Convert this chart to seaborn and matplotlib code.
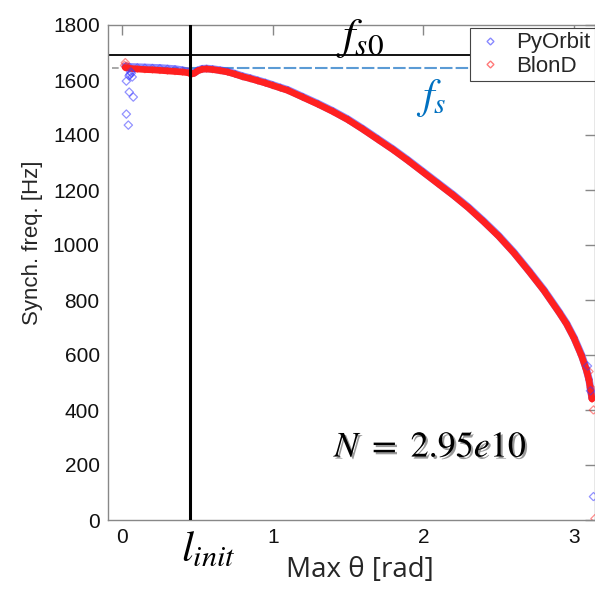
import numpy as np
import pandas as pd
import seaborn as sns
import matplotlib
matplotlib.use("Agg")
import matplotlib.pyplot as plt
from matplotlib.lines import Line2D
import matplotlib.patheffects as pe

# ---------------- data ----------------
theta_band = [0.02, 0.05, 0.10, 0.15, 0.20, 0.25, 0.30, 0.35, 0.40, 0.44, 0.46, 0.48,
              0.50, 0.53, 0.56, 0.60, 0.65, 0.70, 0.75, 0.80, 0.85, 0.90, 0.95, 1.00,
              1.05, 1.10, 1.20, 1.30, 1.40, 1.50, 1.60, 1.70, 1.80, 1.90, 2.00, 2.10,
              2.20, 2.30, 2.40, 2.50, 2.60, 2.70, 2.80, 2.90, 2.95, 3.00, 3.05, 3.08,
              3.10, 3.12]
f_blond = [1645, 1642, 1640, 1638, 1637, 1635, 1633, 1631, 1629, 1626, 1622, 1625,
           1633, 1639, 1640, 1638, 1634, 1629, 1621, 1612, 1605, 1597, 1589, 1580,
           1571, 1562, 1537, 1512, 1485, 1455, 1420, 1383, 1346, 1306, 1264, 1222,
           1180, 1135, 1085, 1032, 972, 905, 835, 756, 714, 662, 598, 550,
           509, 440]
f_pyorbit = [1650, 1648, 1647, 1646, 1645, 1644, 1642, 1640, 1636, 1631, 1624, 1627,
             1635, 1641, 1642, 1640, 1636, 1631, 1623, 1614, 1607, 1599, 1591, 1582,
             1573, 1564, 1539, 1514, 1487, 1457, 1422, 1385, 1348, 1308, 1266, 1224,
             1182, 1137, 1087, 1034, 974, 907, 837, 758, 716, 664, 601, 553,
             512, 445]

theta_py_out = [0.027, 0.066, 0.046, 0.073, 0.027, 0.040, 0.050, 0.055, 0.060, 0.045,
                3.09, 3.11, 3.13]
f_py_out = [1596, 1611, 1556, 1538, 1476, 1436, 1620, 1630, 1625, 1615, 560, 470, 85]
theta_bl_out = [0.020, 0.015, 0.030, 3.10, 3.115, 3.13, 3.14]
f_bl_out = [1663, 1653, 1650, 540, 480, 400, 5]

fs0 = 1690
fs = 1645
l_init = 0.45

xticks = [0, 1, 2, 3]
yticks = [0, 200, 400, 600, 800, 1000, 1200, 1400, 1600, 1800]

# ---------------- style ----------------
sns.set_style("white")
plt.rcParams["font.family"] = ["Liberation Sans", "DejaVu Sans"]
plt.rcParams["mathtext.fontset"] = "stix"

BLUE = "#3a3aff"
RED = "#ff2020"

fig = plt.figure(figsize=(5.95, 5.93), dpi=100)
ax = fig.add_axes([108 / 595, 1 - 520 / 593, 487 / 595, 495 / 593])

df_py = pd.DataFrame({"theta": theta_band, "f": f_pyorbit})
df_bl = pd.DataFrame({"theta": theta_band, "f": f_blond})

# dense bands
sns.lineplot(data=df_py, x="theta", y="f", color=BLUE, lw=5.4, alpha=0.6, ax=ax,
             legend=False, zorder=3)
sns.lineplot(data=df_bl, x="theta", y="f", color=RED, lw=4.8, ax=ax,
             legend=False, zorder=4)
sns.scatterplot(data=df_py, x="theta", y="f", marker="D", s=12, facecolor="none",
                edgecolor=BLUE, linewidth=0.7, alpha=0.5, ax=ax, legend=False, zorder=3)
sns.scatterplot(data=df_bl, x="theta", y="f", marker="D", s=12, facecolor="none",
                edgecolor=RED, linewidth=0.7, alpha=0.5, ax=ax, legend=False, zorder=4)
# outliers
sns.scatterplot(x=theta_py_out, y=f_py_out, marker="D", s=18, facecolor="none",
                edgecolor=BLUE, linewidth=0.9, alpha=0.55, ax=ax, legend=False, zorder=5)
sns.scatterplot(x=theta_bl_out, y=f_bl_out, marker="D", s=18, facecolor="none",
                edgecolor=RED, linewidth=0.9, alpha=0.5, ax=ax, legend=False, zorder=5)

# reference lines
ax.axhline(fs0, color="black", lw=1.3, zorder=2)
ax.plot([-0.2, l_init], [fs, fs], color="#999999", lw=1.2, ls=(0, (4, 2)), zorder=2)
ax.plot([l_init, 3.2], [fs, fs], color="#5b9bd5", lw=1.5, ls=(0, (6, 1.5)), zorder=2)
ax.axvline(l_init, color="black", lw=2.2, zorder=6)

ax.set_xlim(-0.095, 3.14)
ax.set_ylim(0, 1800)
ax.set_xticks(xticks)
ax.set_yticks(yticks)
ax.set_xlabel("")
ax.set_ylabel("")
ax.tick_params(direction="in", top=True, right=True, length=7, width=1,
               color="#888888", labelsize=15, labelcolor="#111111", pad=6)
for s in ax.spines.values():
    s.set_color("#888888")
    s.set_linewidth(1.0)
    s.set_visible(True)

# legend
handles = [
    Line2D([], [], marker="D", ls="none", markersize=3.5, markerfacecolor="none",
           markeredgecolor=BLUE, alpha=0.6, label="PyOrbit"),
    Line2D([], [], marker="D", ls="none", markersize=3.5, markerfacecolor="none",
           markeredgecolor=RED, alpha=0.6, label="BlonD"),
]
leg = ax.legend(handles=handles, loc="upper right", bbox_to_anchor=(1.0, 0.994),
                fontsize=16, frameon=True, fancybox=False, framealpha=1,
                edgecolor="#444444", handlelength=1.4, handletextpad=0.5,
                borderpad=0.2, labelspacing=0.1, borderaxespad=0.0)
leg.get_frame().set_linewidth(0.8)
leg.set_zorder(10)

# annotations
ax.text(1.58, 1752, r"$f_{s0}$", fontsize=32, ha="center", va="center",
        color="black", zorder=7)
ax.text(2.05, 1535, r"$f_s$", fontsize=30, ha="center", va="center",
        color="#0070C0", zorder=7)
ax.text(2.05, 265, r"$N\ =\ 2.95e10$", fontsize=26, ha="center", va="center",
        color="black", zorder=7,
        path_effects=[pe.SimplePatchShadow(offset=(1.5, -1.5), alpha=0.4), pe.Normal()])
ax.text(0.57, -110, r"$l_{init}$", fontsize=31, ha="center", va="center",
        color="black", clip_on=False)

fig.text(360 / 595, 1 - 570 / 593, "Max θ [rad]", fontsize=20, ha="center",
         va="center", family=["Open Sans", "DejaVu Sans"])
fig.text(33 / 595, 1 - 243 / 593, "Synch. freq. [Hz]", fontsize=16, ha="center",
         va="center", rotation=90)

fig.savefig("out.png", dpi=100)
